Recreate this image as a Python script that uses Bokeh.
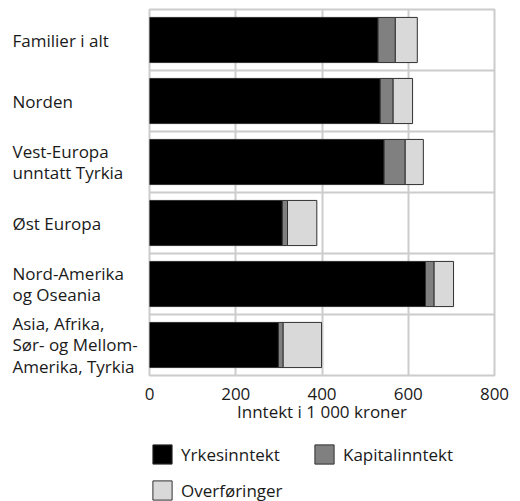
from bokeh.plotting import figure
from bokeh.models import ColumnDataSource, FixedTicker, Legend, LegendItem, Range1d
from bokeh.layouts import row, column
from bokeh.core.properties import value
from bokeh.embed import file_html
from bokeh.resources import INLINE

categories = [
    "Familier i alt",
    "Norden",
    "Vest-Europa\nunntatt Tyrkia",
    "Øst Europa",
    "Nord-Amerika\nog Oseania",
    "Asia, Afrika,\nSør- og Mellom-\nAmerika, Tyrkia",
]
yrkesinntekt = [530, 535, 544, 308, 640, 299]
kapitalinntekt = [40, 30, 49, 12, 20, 11]
overforinger = [51, 45, 42, 68, 45, 89]
x_ticks = [0, 200, 400, 600, 800]
series_names = ["Yrkesinntekt", "Kapitalinntekt", "Overføringer"]
colors = ["#000000", "#808080", "#d9d9d9"]

FONT = "Open Sans"
FS = "17px"
TXT = "#1a1a1a"

n = len(categories)
ypos = [n - 0.5 - i for i in range(n)]

TOP = 9
LAB_W = 140
GAP = 9
FRAME_W = 345
FRAME_H = 366
TOTAL_W = 520
TOTAL_H = 501
ROW_H = 425
EXTRA = 30

# left label column (frame extends below so the 3-line label is not clipped)
lab = figure(frame_width=LAB_W, frame_height=FRAME_H + EXTRA,
             x_range=(0, LAB_W), y_range=Range1d(-EXTRA * n / FRAME_H, n),
             output_backend="svg", toolbar_location=None,
             min_border_left=0, min_border_right=0, min_border_top=TOP,
             min_border_bottom=ROW_H - TOP - FRAME_H - EXTRA)
lab.axis.visible = False
lab.grid.visible = False
lab.outline_line_color = None
lab.text(x=[12] * n, y=ypos, text=categories, text_align="left", text_baseline="middle",
         text_font=value(FONT), text_font_size=FS, text_color=TXT, text_line_height=0.93)

p = figure(frame_width=FRAME_W, frame_height=FRAME_H, x_range=(0, 800), y_range=(0, n),
           output_backend="svg", toolbar_location=None,
           min_border_left=GAP, min_border_right=TOTAL_W - LAB_W - GAP - FRAME_W,
           min_border_top=TOP, min_border_bottom=0)

src = ColumnDataSource(dict(y=ypos, yrkes=yrkesinntekt, kap=kapitalinntekt, ovf=overforinger))
rs = p.hbar_stack(["yrkes", "kap", "ovf"], y="y", height=0.74, source=src,
                  fill_color=colors, line_color="#303030", line_width=1)

p.yaxis.visible = False
p.ygrid.ticker = FixedTicker(ticks=list(range(1, n)))
p.xaxis.ticker = FixedTicker(ticks=x_ticks)
p.grid.grid_line_color = "#cccccc"
p.grid.grid_line_width = 2
p.outline_line_color = "#cccccc"
p.outline_line_width = 2

ax = p.xaxis[0]
ax.axis_line_color = None
ax.major_tick_line_color = None
ax.minor_tick_line_color = None
ax.major_label_text_font = FONT
ax.major_label_text_font_size = FS
ax.major_label_text_color = TXT
ax.major_label_standoff = 6
ax.axis_label = "Inntekt i 1 000 kroner"
ax.axis_label_text_font = FONT
ax.axis_label_text_font_size = FS
ax.axis_label_text_font_style = "normal"
ax.axis_label_text_color = TXT
ax.axis_label_standoff = -3

# legend in its own strip below; its swatch renderers share the bar data but
# lie entirely outside this strip's visible ranges
LEG_H = TOTAL_H - ROW_H
leg = figure(frame_width=TOTAL_W, frame_height=LEG_H, x_range=(5000, 6000), y_range=(5000, 6000),
             output_backend="svg", toolbar_location=None,
             min_border_left=0, min_border_right=0, min_border_top=0, min_border_bottom=0)
leg.axis.visible = False
leg.grid.visible = False
leg.outline_line_color = None
leg_rs = leg.hbar_stack(["yrkes", "kap", "ovf"], y="y", height=0.74, source=src,
                        fill_color=colors, line_color="#303030", line_width=1)
items = [LegendItem(label=nm, renderers=[r]) for nm, r in zip(series_names, leg_rs)]
legend = Legend(items=items, orientation="horizontal", ncols=2,
                glyph_width=24, glyph_height=24, label_standoff=7, spacing=12,
                label_width=119, label_text_font=FONT, label_text_font_size=FS,
                label_text_color=TXT, border_line_color=None, padding=0, margin=0,
                location=(150, LEG_H - 17 - 60), background_fill_alpha=0)
leg.add_layout(legend, "center")

layout = column(row(lab, p), leg)
open("out.html", "w").write(file_html(layout, INLINE))
